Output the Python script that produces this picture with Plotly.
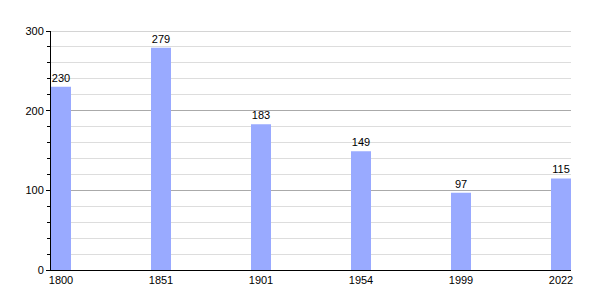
import plotly.graph_objects as go

years = ["1800", "1851", "1901", "1954", "1999", "2022"]
population = [230, 279, 183, 149, 97, 115]
y_max = 300

fig = go.Figure()
fig.add_trace(go.Bar(
    x=years, y=population,
    marker=dict(color="#99aaff", line=dict(width=0)),
    width=0.2,
    text=[str(v) for v in population],
    textposition="outside",
    textfont=dict(color="black", size=11, family="Liberation Sans, Arial"),
    cliponaxis=False,
))
# top gridline at the edge of the range
fig.add_shape(type="line", xref="paper", x0=0, x1=1, yref="y", y0=y_max, y1=y_max,
              line=dict(color="#aaaaaa", width=1), layer="below")
fig.update_layout(
    width=600, height=300,
    margin=dict(l=51, r=29, t=31, b=30),
    plot_bgcolor="white", paper_bgcolor="white",
    font=dict(family="Liberation Sans, Arial", size=11, color="black"),
    showlegend=False,
    xaxis=dict(
        type="category", range=[-0.1, 5.1],
        showline=True, linecolor="black", linewidth=1,
        showgrid=False, ticks="", tickfont=dict(size=11, color="black"),
    ),
    yaxis=dict(
        range=[0, y_max], dtick=100,
        showline=True, linecolor="black", linewidth=1,
        gridcolor="#aaaaaa", gridwidth=1,
        ticks="outside", ticklen=4, tickcolor="black",
        zeroline=False,
        minor=dict(dtick=20, showgrid=True, gridcolor="#dddddd",
                   ticks="outside", ticklen=3, tickcolor="black"),
        tickfont=dict(size=11, color="black"),
    ),
)
fig.write_html("out.html")
